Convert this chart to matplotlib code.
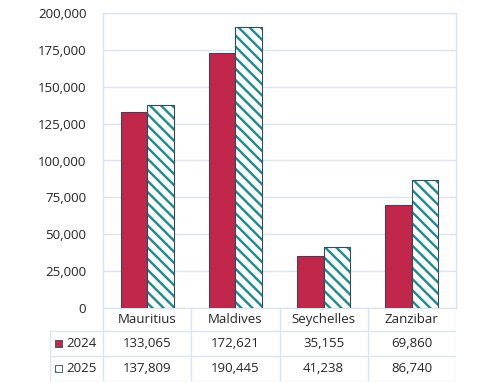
import numpy as np
import matplotlib.pyplot as plt
from matplotlib.patches import Rectangle

# Datos
categorias = ['Mauritius', 'Maldives', 'Seychelles', 'Zanzibar']
anios = ['2024', '2025']
valores_2024 = [133065, 172621, 35155, 69860]
valores_2025 = [137809, 190445, 41238, 86740]
yticks = list(range(0, 200001, 25000))

rojo = '#c1264b'
verde = '#1a8c8e'
borde = '#34495a'
rejilla = '#dce5ef'
texto = '#262626'

plt.rcParams['font.family'] = ['Open Sans', 'DejaVu Sans']
plt.rcParams['hatch.linewidth'] = 1.7

fig = plt.figure(figsize=(5, 3.83), dpi=100)
W, H = 500, 383
x0, x1, y0, y1 = 103, 456, 308, 13
ax = fig.add_axes([x0 / W, 1 - y0 / H, (x1 - x0) / W, (y0 - y1) / H])

x = np.arange(len(categorias))
ancho = 0.3
ax.bar(x - ancho / 2, valores_2024, ancho, color=rojo, edgecolor=borde, linewidth=0.8, zorder=3)
ax.bar(x + ancho / 2, valores_2025, ancho, color='white', edgecolor=verde, hatch='\\\\\\',
       linewidth=0, zorder=3)
ax.bar(x + ancho / 2, valores_2025, ancho, fill=False, edgecolor=borde, linewidth=0.8, zorder=4)

ax.set_xlim(-0.5, len(categorias) - 0.5)
ax.set_ylim(0, 200000)
ax.set_yticks(yticks)
ax.set_yticklabels([f'{v:,}' for v in yticks], fontsize=9.5, color=texto)
ax.set_xticks([])
ax.tick_params(axis='y', length=0, pad=12)
ax.grid(axis='y', color=rejilla, linewidth=1, zorder=0)
for s in ax.spines.values():
    s.set_color(rejilla)
    s.set_linewidth(1)

# Tabla de datos
tx0, ty1 = 50, 381
tab = fig.add_axes([tx0 / W, 1 - ty1 / H, (x1 - tx0) / W, (ty1 - y0) / H])
tab.set_xlim(tx0, x1)
tab.set_ylim(ty1, y0)
tab.axis('off')
col = (x1 - x0) / len(categorias)
filas = [y0, 331, 356, ty1]
lc = dict(color=rejilla, linewidth=1)
for yy in filas[1:]:
    tab.plot([tx0, x1], [yy, yy], **lc)
tab.plot([tx0, tx0], [filas[1], ty1], **lc)
for i in range(len(categorias) + 1):
    xx = x0 + i * col
    tab.plot([xx, xx], [y0, ty1], **lc)

for i, c in enumerate(categorias):
    cx = x0 + (i + 0.5) * col
    tab.text(cx, (filas[0] + filas[1]) / 2, c, ha='center', va='center', fontsize=9.5, color=texto)
    tab.text(cx, (filas[1] + filas[2]) / 2, f'{valores_2024[i]:,}', ha='center', va='center',
             fontsize=9.5, color=texto)
    tab.text(cx, (filas[2] + filas[3]) / 2, f'{valores_2025[i]:,}', ha='center', va='center',
             fontsize=9.5, color=texto)

for j, a in enumerate(anios):
    cy = (filas[j + 1] + filas[j + 2]) / 2
    if j == 0:
        tab.add_patch(Rectangle((55, cy - 3.5), 7, 7, facecolor=rojo, edgecolor=borde, linewidth=0.6))
    else:
        tab.add_patch(Rectangle((55, cy - 3.5), 7, 7, facecolor='white', edgecolor=verde,
                                hatch='\\\\', linewidth=0))
        tab.add_patch(Rectangle((55, cy - 3.5), 7, 7, fill=False, edgecolor=borde, linewidth=0.6))
    tab.text(66, cy, a, ha='left', va='center', fontsize=9.5, color=texto)

fig.savefig('out.png', dpi=100)
